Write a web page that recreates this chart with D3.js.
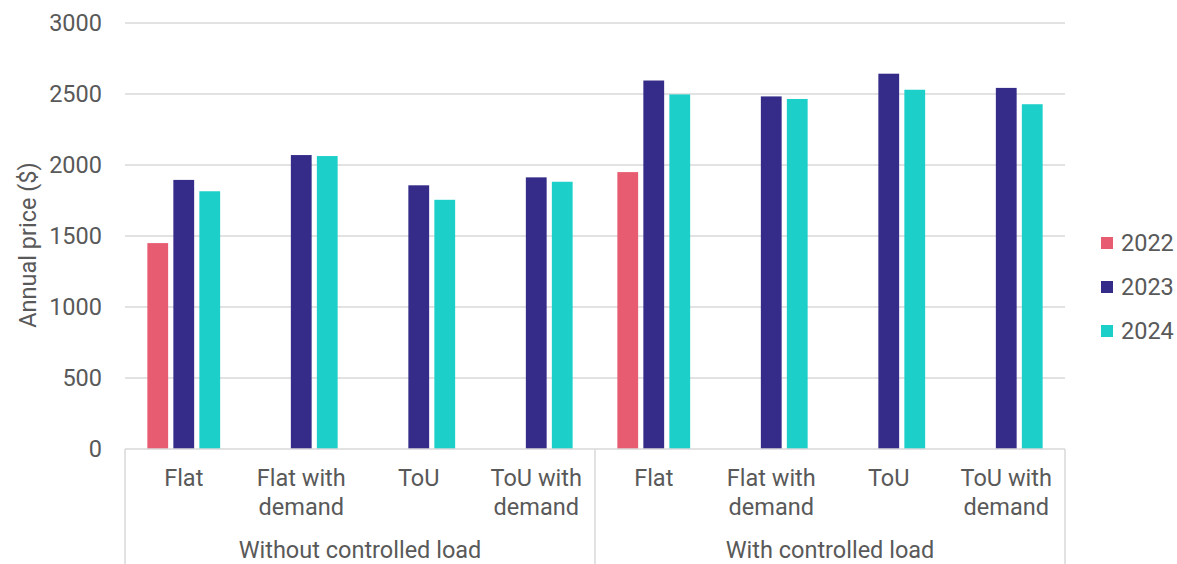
<!DOCTYPE html>
<html><head><meta charset="utf-8">
<script src="https://cdn.jsdelivr.net/npm/d3@7"></script>
<style>body{margin:0;background:#fff}svg text{font-family:Roboto,"Noto Sans",sans-serif;fill:#595959}</style>
</head><body><svg id="c" width="1177" height="564"></svg>
<script>
const groups = ["Without controlled load", "With controlled load"];
const tariffs = ["Flat", "Flat with demand", "ToU", "ToU with demand"];
const tariffLines = [["Flat"], ["Flat with", "demand"], ["ToU"], ["ToU with", "demand"]];
const years = ["2022", "2023", "2024"];
const colors = ["#E85C72", "#352C8A", "#1DCFC9"];
const v2022 = [1450, null, null, null, 1950, null, null, null];
const v2023 = [1895, 2070, 1857, 1913, 2595, 2483, 2643, 2543];
const v2024 = [1815, 2063, 1755, 1882, 2497, 2465, 2530, 2428];
const yTicks = [0, 500, 1000, 1500, 2000, 2500, 3000];
const series = [v2022, v2023, v2024];

const svg = d3.select("#c");
const L = 125, R = 1065, T = 23, B = 449;
const FS = 23.5;
const cats = [];
groups.forEach((g, gi) => tariffs.forEach((t, ti) => cats.push(gi * 4 + ti)));
const x0 = d3.scaleBand().domain(cats).range([L, R]).padding(0);
const x1 = d3.scaleBand().domain(years).range([-39, 39]).paddingInner(0.2).paddingOuter(0.1);
const y = d3.scaleLinear().domain([0, 3000]).range([B, T]);

// gridlines
svg.append("g").selectAll("line").data(yTicks.filter(d => d > 0)).join("line")
  .attr("x1", L).attr("x2", R).attr("y1", d => y(d)).attr("y2", d => y(d))
  .attr("stroke", "#D9D9D9").attr("stroke-width", 1.5);

// y labels
svg.append("g").selectAll("text").data(yTicks).join("text")
  .attr("x", 102).attr("y", d => y(d)).attr("dy", "0.35em")
  .attr("text-anchor", "end").attr("font-size", FS).text(d => d);

svg.append("text").attr("transform", "translate(36,245) rotate(-90)")
  .attr("text-anchor", "middle").attr("font-size", FS).text("Annual price ($)");

// bars
series.forEach((vals, si) => {
  svg.append("g").selectAll("rect").data(vals.map((v, i) => ({v, i})).filter(d => d.v != null)).join("rect")
    .attr("x", d => x0(d.i) + x0.bandwidth() / 2 + x1(years[si]))
    .attr("width", x1.bandwidth())
    .attr("y", d => y(d.v)).attr("height", d => B - y(d.v))
    .attr("fill", colors[si]);
});

// axis lines
svg.append("line").attr("x1", L).attr("x2", R).attr("y1", B).attr("y2", B).attr("stroke", "#D9D9D9").attr("stroke-width", 1.5);
[L, (L + R) / 2, R].forEach(xx => svg.append("line").attr("x1", xx).attr("x2", xx).attr("y1", B).attr("y2", 564)
  .attr("stroke", "#D9D9D9").attr("stroke-width", 1.5));

// category labels
cats.forEach(ci => {
  const lines = tariffLines[ci % 4];
  const t = svg.append("text").attr("text-anchor", "middle").attr("font-size", FS)
    .attr("x", x0(ci) + x0.bandwidth() / 2);
  lines.forEach((ln, li) => t.append("tspan").attr("x", x0(ci) + x0.bandwidth() / 2).attr("y", 486 + li * 29).text(ln));
});
groups.forEach((g, gi) => {
  svg.append("text").attr("text-anchor", "middle").attr("font-size", FS)
    .attr("x", (x0(gi * 4) + x0(gi * 4 + 3) + x0.bandwidth()) / 2).attr("y", 558).text(g);
});

// legend
years.forEach((yr, i) => {
  const cy = 243 + i * 44;
  svg.append("rect").attr("x", 1101).attr("y", cy - 6).attr("width", 12).attr("height", 12).attr("fill", colors[i]);
  svg.append("text").attr("x", 1121).attr("y", cy).attr("dy", "0.35em").attr("font-size", FS).text(yr);
});
</script></body></html>
